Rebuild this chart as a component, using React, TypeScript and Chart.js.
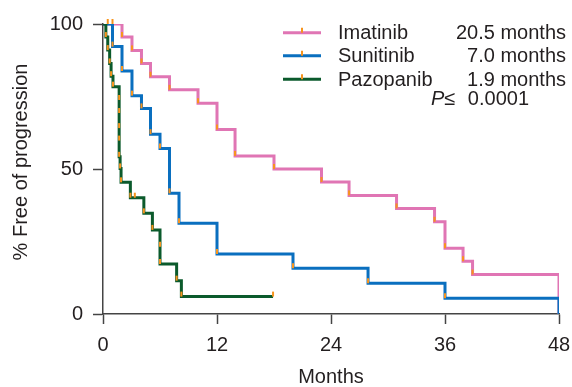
import React, { useEffect, useRef } from 'react';
import { Chart, registerables } from 'chart.js';

Chart.register(...registerables);

// ---------- data ----------
const xTickValues = [0, 12, 24, 36, 48];
const yTickValues = [0, 50, 100];

const seriesNames = ['Imatinib', 'Sunitinib', 'Pazopanib'];
const medianLabels = ['20.5 months', '7.0 months', '1.9 months'];
const pLabel = '0.0001';

const imatinibMonths = [0, 2.0, 3.05, 4.05, 5.0, 7.0, 10.0, 12.0, 13.9, 18.0, 23.0, 25.9, 30.9, 34.9, 36.0, 37.9, 38.9, 48];
const imatinibPct = [100, 95.5, 90.9, 86.4, 81.8, 77.3, 72.7, 63.6, 54.5, 50.0, 45.5, 40.9, 36.4, 31.8, 22.7, 18.2, 13.6, 0];

const sunitinibMonths = [0, 1.0, 2.0, 3.05, 4.05, 5.0, 6.0, 7.0, 8.0, 12.0, 20.0, 27.9, 36.0, 48];
const sunitinibPct = [100, 92.2, 83.8, 75.3, 70.9, 62.0, 57.1, 41.6, 31.3, 20.7, 15.8, 10.6, 5.4, 0];

const pazopanibMonths = [0, 0.3, 0.5, 0.7, 0.85, 1.05, 1.7, 1.7, 1.7, 1.7, 1.7, 1.8, 1.9, 2.88, 4.3, 5.2, 6.0, 6.0, 7.75, 8.25, 17.9];
const pazopanibPct = [100, 95.5, 91.0, 86.4, 82.0, 78.4, 73.8, 69.3, 64.1, 59.8, 54.2, 50.2, 45.4, 40.1, 34.7, 29.0, 23.2, 17.2, 11.5, 6.0, 6.0];

// extra censor marks (months, %)
const censorMonths = [0.5, 1.0, 3.35];
const censorPct = [100, 100, 40.1];

// ---------- styles ----------
const COLORS = ['#E075B4', '#0A6FBF', '#0B5A2C'];
const ORANGE = '#F7941D';
const TEXT = '#231F20';
const AXIS = '#444444';
const FAMILY = '"Liberation Sans", Arial, Helvetica, sans-serif';

const toPoints = (xs: number[], ys: number[]) => xs.map((x, i) => ({ x, y: ys[i] }));

const allMonths = [imatinibMonths, sunitinibMonths, pazopanibMonths];
const allPct = [imatinibPct, sunitinibPct, pazopanibPct];

const overlayPlugin = {
  id: 'kmOverlay',
  afterDatasetsDraw(chart: any) {
    const { ctx, scales } = chart;
    const xs = scales.x;
    const ys = scales.y;
    const tick = (mx: number, py: number) => {
      const px = xs.getPixelForValue(mx);
      const pyy = ys.getPixelForValue(py);
      ctx.beginPath();
      ctx.moveTo(px, pyy);
      ctx.lineTo(px, pyy - 5);
      ctx.stroke();
    };
    ctx.save();
    ctx.strokeStyle = ORANGE;
    ctx.lineWidth = 2;
    allMonths.forEach((months, s) => {
      const pct = allPct[s];
      for (let i = 1; i < months.length; i++) {
        const drop = pct[i] < pct[i - 1] && pct[i] > 0;
        const end = i === months.length - 1 && months[i] < xs.max;
        if (drop || end) tick(months[i], pct[i]);
      }
    });
    censorMonths.forEach((m, i) => tick(m, censorPct[i]));
    ctx.restore();
  },
  afterDraw(chart: any) {
    const { ctx } = chart;
    ctx.save();
    // legend
    const baselines = [39.3, 62.3, 85.7];
    baselines.forEach((b, i) => {
      const ly = b - 6.5;
      ctx.strokeStyle = COLORS[i];
      ctx.lineWidth = 3;
      ctx.beginPath();
      ctx.moveTo(283, ly);
      ctx.lineTo(321, ly);
      ctx.stroke();
      ctx.strokeStyle = ORANGE;
      ctx.lineWidth = 2;
      ctx.beginPath();
      ctx.moveTo(302, ly);
      ctx.lineTo(302, ly - 5);
      ctx.stroke();
      ctx.fillStyle = TEXT;
      ctx.font = `20px ${FAMILY}`;
      ctx.textBaseline = 'alphabetic';
      ctx.textAlign = 'left';
      ctx.fillText(seriesNames[i], 338, b);
      ctx.textAlign = 'right';
      ctx.fillText(medianLabels[i], 566, b);
    });
    // P value
    ctx.textAlign = 'left';
    ctx.font = `italic 20px ${FAMILY}`;
    ctx.fillText('P', 431, 105);
    ctx.font = `20px ${FAMILY}`;
    ctx.fillText('\u2264', 444, 105);
    ctx.textAlign = 'right';
    ctx.fillText(pLabel, 529, 105);
    // y title
    ctx.translate(21, 162);
    ctx.rotate(-Math.PI / 2);
    ctx.textAlign = 'center';
    ctx.textBaseline = 'middle';
    ctx.fillText('% Free of progression', 0, 0);
    ctx.restore();
  },
};

export default function App() {
  const ref = useRef<HTMLCanvasElement | null>(null);
  useEffect(() => {
    document.body.style.margin = '0';
    if (!ref.current) return;
    const chart = new Chart(ref.current, {
      type: 'line',
      data: {
        datasets: allMonths.map((m, i) => ({
          label: seriesNames[i],
          data: toPoints(m, allPct[i]),
          borderColor: COLORS[i],
          backgroundColor: COLORS[i],
          borderWidth: 3,
          stepped: true,
          pointRadius: 0,
          fill: false,
          order: 3 - i,
        })),
      },
      options: {
        animation: false,
        responsive: false,
        devicePixelRatio: 1,
        layout: { padding: { left: 0, right: 13, top: 24, bottom: 0 } },
        plugins: { legend: { display: false }, tooltip: { enabled: false } },
        scales: {
          x: {
            type: 'linear',
            min: 0,
            max: 48,
            afterBuildTicks: (s: any) => {
              s.ticks = xTickValues.map((v) => ({ value: v }));
            },
            ticks: { color: TEXT, font: { size: 20, family: FAMILY }, padding: 9, maxRotation: 0, autoSkip: false },
            grid: { display: true, drawOnChartArea: false, drawTicks: true, tickLength: 10, tickWidth: 1.5, tickColor: AXIS, color: AXIS },
            border: { display: true, color: AXIS, width: 1.5 },
            title: { display: true, text: 'Months', color: TEXT, font: { size: 20, family: FAMILY, lineHeight: 1 }, padding: { top: 0, bottom: 0 } },
            afterFit: (s: any) => {
              s.height = 73;
              s.paddingLeft = 0;
              s.paddingRight = 0;
            },
          },
          y: {
            type: 'linear',
            min: 0,
            max: 100,
            afterBuildTicks: (s: any) => {
              s.ticks = yTickValues.map((v) => ({ value: v }));
            },
            ticks: { color: TEXT, font: { size: 20, family: FAMILY }, padding: 10, autoSkip: false },
            grid: { display: true, drawOnChartArea: false, drawTicks: true, tickLength: 10, tickWidth: 1.5, tickColor: AXIS, color: AXIS },
            border: { display: true, color: AXIS, width: 1.5 },
            afterFit: (s: any) => {
              s.width = 103;
              s.paddingTop = 0;
              s.paddingBottom = 0;
            },
          },
        },
      },
      plugins: [overlayPlugin],
    } as any);
    return () => chart.destroy();
  }, []);
  return (
    <div style={{ width: 572, height: 387 }}>
      <canvas ref={ref} width={572} height={387} style={{ display: 'block' }} />
    </div>
  );
}
